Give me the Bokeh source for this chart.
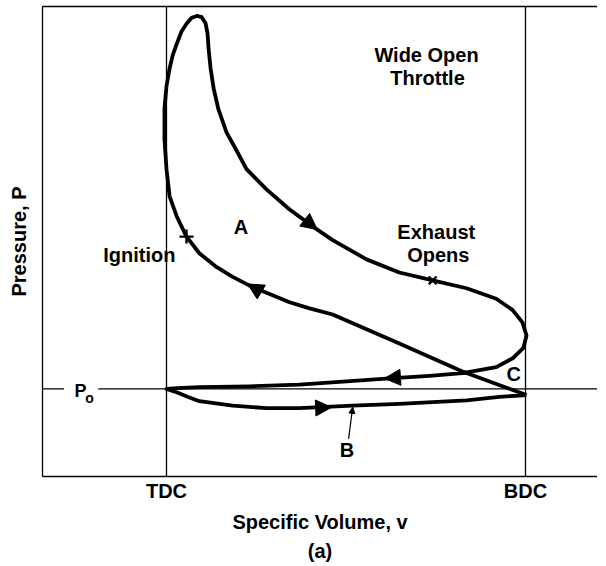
from bokeh.plotting import figure
from bokeh.models import (LinearAxis, FixedTicker, Arrow, NormalHead,
                          Title, ColumnDataSource, Range1d)
from bokeh.core.properties import value
from bokeh.embed import file_html
from bokeh.resources import INLINE

FONT = "Liberation Sans"
FS = "20px"
FW = "bold"

# ---- data (v: specific volume, TDC = 1, BDC = 8; P: pressure, P0 = 1) ----
tick_values = [1, 8]
tick_labels = {1: "TDC", 8: "BDC"}
p0 = 1.0

cycle_v = [8.02, 6.77, 5.54, 4.24, 3.79, 3.40, 2.95, 2.62, 2.29, 1.98, 1.64, 1.39,
           1.20, 1.06, 1.00, 0.96, 0.96, 1.00, 1.06, 1.12, 1.20, 1.29, 1.39, 1.49,
           1.59, 1.68, 1.76, 1.80, 1.82, 1.86, 1.92, 2.01, 2.17, 2.35, 2.56, 2.95,
           3.40, 3.94, 4.24, 4.90, 5.54, 6.19, 6.85, 7.43, 7.75, 7.94, 8.02, 7.96,
           7.75, 7.43, 6.77, 6.13, 5.35, 4.37, 3.59, 2.62, 1.64, 1.21, 1.00, 1.16,
           1.41, 1.64, 2.29, 2.95, 3.59, 4.63, 5.54, 6.19, 6.85, 7.49, 8.02]
cycle_p = [0.93, 1.20, 1.52, 1.85, 1.92, 1.99, 2.10, 2.18, 2.28, 2.39, 2.55, 2.74,
           2.97, 3.20, 3.51, 3.85, 4.20, 4.46, 4.66, 4.81, 4.94, 5.08, 5.17, 5.24,
           5.26, 5.25, 5.18, 5.06, 4.89, 4.66, 4.43, 4.20, 3.93, 3.74, 3.51, 3.28,
           3.05, 2.82, 2.70, 2.48, 2.33, 2.24, 2.15, 2.03, 1.90, 1.76, 1.61, 1.47,
           1.35, 1.25, 1.18, 1.15, 1.12, 1.08, 1.05, 1.03, 1.02, 1.01, 1.00, 0.97,
           0.91, 0.86, 0.81, 0.78, 0.78, 0.81, 0.83, 0.85, 0.87, 0.91, 0.93]

# direction arrows on the cycle (start -> tip)
arrow_x0 = [3.59, 3.01, 5.74, 3.79]
arrow_y0 = [2.98, 2.05, 1.14, 0.78]
arrow_x1 = [3.94, 2.58, 5.25, 4.22]
arrow_y1 = [2.82, 2.20, 1.12, 0.79]

# event marks
ignition_v, ignition_p = [1.39], [2.74]
exhaust_v, exhaust_p = [6.19], [2.24]

# pointer to B
b_ptr_x0, b_ptr_y0, b_ptr_x1, b_ptr_y1 = 4.55, 0.43, 4.63, 0.79

# P0 reference line pieces (gap for its label)
p0_x0 = [-1.42, -0.33]
p0_x1 = [-1.00, 9.41]

labels_text = ["Wide Open", "Throttle", "A", "Ignition", "Exhaust", "Opens", "C", "B"]
labels_v = [6.07, 6.09, 2.45, 0.47, 6.26, 6.30, 7.77, 4.52]
labels_p = [4.815, 4.555, 2.855, 2.535, 2.795, 2.525, 1.165, 0.30]

# ---- figure ----
p = figure(frame_width=555, frame_height=470,
           x_range=Range1d(-1.418, 9.404), y_range=Range1d(0, 5.368),
           output_backend="svg", toolbar_location=None,
           min_border_left=42, min_border_right=0, min_border_top=6,
           min_border_bottom=0)
p.outline_line_color = None
p.background_fill_color = "white"
p.border_fill_color = "white"

xa = p.xaxis[0]
xa.ticker = FixedTicker(ticks=tick_values)
xa.major_label_overrides = tick_labels
xa.major_tick_in = 0
xa.major_tick_out = 0
xa.minor_tick_line_color = None
xa.axis_line_width = 1.3
xa.major_label_text_font = FONT
xa.major_label_text_font_size = FS
xa.major_label_text_font_style = FW
xa.major_label_text_color = "black"
xa.major_label_standoff = 3
xa.axis_label = "Specific Volume, v"
xa.axis_label_text_font = FONT
xa.axis_label_text_font_size = FS
xa.axis_label_text_font_style = FW
xa.axis_label_text_color = "black"
xa.axis_label_standoff = 6

ya = p.yaxis[0]
ya.ticker = FixedTicker(ticks=[])
ya.major_tick_in = 0
ya.major_tick_out = 0
ya.minor_tick_line_color = None
ya.axis_line_width = 1.3
ya.axis_label = "Pressure, P"
ya.axis_label_text_font = FONT
ya.axis_label_text_font_size = FS
ya.axis_label_text_font_style = FW
ya.axis_label_text_color = "black"
ya.axis_label_standoff = 13

top = LinearAxis(ticker=FixedTicker(ticks=[]), major_tick_in=0, major_tick_out=0,
                 minor_tick_in=0, minor_tick_out=0, major_label_standoff=0,
                 axis_line_width=1.3)
p.add_layout(top, "above")

p.xgrid.ticker = FixedTicker(ticks=tick_values)
p.xgrid.grid_line_color = "black"
p.xgrid.grid_line_width = 1.3
p.ygrid.grid_line_color = None

cap = Title(text="(a)", align="center", text_font=FONT, text_font_size=FS,
            text_font_style=FW, text_color="black", standoff=4)
p.add_layout(cap, "below")

# P0 line
p.segment(x0=p0_x0, y0=[p0, p0], x1=p0_x1, y1=[p0, p0], line_color="black", line_width=1.3)
p.text(x=[-0.677], y=[0.98], text=["P"], text_font=value(FONT), text_font_size="18px",
       text_font_style=FW, text_align="center", text_baseline="alphabetic", text_color="black")
p.text(x=[-0.50], y=[0.90], text=["o"], text_font=value(FONT), text_font_size="14px",
       text_font_style=FW, text_align="center", text_baseline="alphabetic", text_color="black")

# cycle
p.line(cycle_v, cycle_p, line_color="black", line_width=3.8, line_join="round")

src = ColumnDataSource(dict(x0=arrow_x0, y0=arrow_y0, x1=arrow_x1, y1=arrow_y1))
p.add_layout(Arrow(source=src, x_start="x0", y_start="y0", x_end="x1", y_end="y1",
                   line_alpha=0,
                   end=NormalHead(size=16, fill_color="black", line_color="black", line_width=1)))

p.add_layout(Arrow(x_start=b_ptr_x0, y_start=b_ptr_y0, x_end=b_ptr_x1, y_end=b_ptr_y1,
                   line_color="black", line_width=1.2,
                   end=NormalHead(size=6, fill_color="black", line_color="black")))

p.scatter(ignition_v, ignition_p, marker="cross", size=14, line_width=2.4, line_color="black")
p.scatter(exhaust_v, exhaust_p, marker="x", size=11, line_width=2.4, line_color="black")

p.text(x=labels_v, y=labels_p, text=labels_text, text_font=value(FONT),
       text_font_size=FS, text_font_style=FW, text_align="center",
       text_baseline="alphabetic", text_color="black")

open("out.html", "w").write(file_html(p, INLINE))
